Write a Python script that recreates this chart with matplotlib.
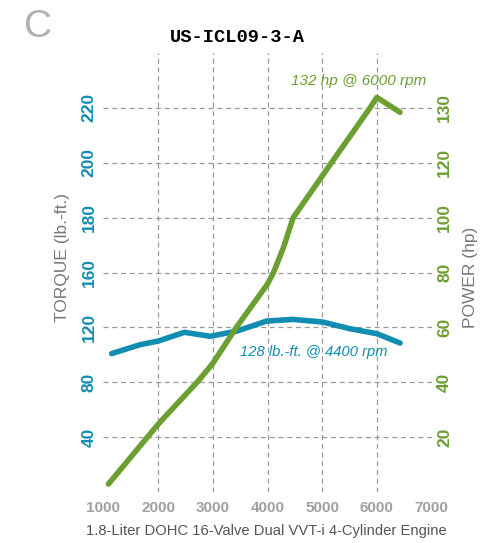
# engine curve: torque / power vs rpm
import numpy as np
import matplotlib
matplotlib.use('Agg')
import matplotlib.pyplot as plt

plt.rcParams['font.family'] = ['Liberation Sans', 'DejaVu Sans']

# 데이터
rpm_power = [1090, 2000, 2730, 3000, 3430, 4000, 4110, 4290, 4470, 5170, 5875, 6000, 6425]
power_hp = [2.9, 24.7, 40.4, 46.9, 60, 75.8, 80, 89, 100, 120, 130, 131.9, 129.2]

rpm_torque = [1150, 1670, 2000, 2480, 2950, 3440, 3985, 4470, 5010, 5510, 6000, 6425]
torque_lbft = [100.9, 107.4, 110.0, 116.4, 113.5, 117.3, 124.6, 125.8, 123.9, 119.0, 115.4, 108.6]

rpm_ticks = [1000, 2000, 3000, 4000, 5000, 6000, 7000]
torque_ticks = [40, 80, 120, 160, 180, 200, 220]
power_ticks = [20, 40, 60, 80, 100, 120, 130]

blue = '#118db2'
green = '#6c9f31'
gray = '#777777'


# 축 눈금 간격이 일정하지 않음 -> 구간별 선형 스케일
def torque_fwd(v):
    return np.interp(v, [0, 160, 240], [0, 4, 8])


def torque_inv(v):
    return np.interp(v, [0, 4, 8], [0, 160, 240])


def power_fwd(v):
    return np.interp(v, [0, 120, 140], [0, 6, 8])


def power_inv(v):
    return np.interp(v, [0, 6, 8], [0, 120, 140])


fig = plt.figure(figsize=(4.85, 5.43), dpi=100)
ax = fig.add_axes([103.5 / 485, 51 / 543, 328 / 485, 439 / 543])
ax2 = ax.twinx()

ax.set_yscale('function', functions=(torque_fwd, torque_inv))
ax2.set_yscale('function', functions=(power_fwd, power_inv))

ax.plot(rpm_torque, torque_lbft, color=blue, lw=4, solid_capstyle='round', solid_joinstyle='round')
ax2.plot(rpm_power, power_hp, color=green, lw=4, solid_capstyle='round', solid_joinstyle='round')

ax.set_xlim(1000, 7000)
ax.set_ylim(0, 240)
ax2.set_ylim(0, 140)

ax.set_xticks(rpm_ticks)
ax.set_yticks(torque_ticks)
ax2.set_yticks(power_ticks)
ax.yaxis.set_minor_locator(matplotlib.ticker.NullLocator())
ax2.yaxis.set_minor_locator(matplotlib.ticker.NullLocator())

ax.grid(True, color='#999999', ls=(0, (4, 3)), lw=0.9)
gl = ax.xaxis.get_gridlines()
gl[0].set_visible(False)
gl[-1].set_visible(False)

for a in (ax, ax2):
    for s in a.spines.values():
        s.set_visible(False)

ax.tick_params(axis='x', length=0, pad=6.5, labelsize=11, labelcolor='#a0a0a0')
ax.tick_params(axis='y', length=0, pad=5, labelsize=12.5, labelcolor=blue, labelrotation=90)
ax2.tick_params(axis='y', length=0, pad=4, labelsize=12.5, labelcolor=green, labelrotation=90)
for lab in ax.get_xticklabels():
    lab.set_fontweight('bold')
for lab in ax.get_yticklabels() + ax2.get_yticklabels():
    lab.set_fontweight('bold')
    lab.set_verticalalignment('center')

ax.set_xlabel('1.8-Liter DOHC 16-Valve Dual VVT-i 4-Cylinder Engine', fontsize=10.6, color='#555555')
ax.xaxis.label.set_verticalalignment('center')
ax.xaxis.set_label_coords((266 - 103.5) / 328, (492 - 531) / 439)
ax.set_ylabel('TORQUE (lb.-ft.)', fontsize=12.5, color=gray)
ax.yaxis.label.set_verticalalignment('center')
ax.yaxis.set_label_coords((63 - 103.5) / 328, (492 - 257) / 439)
ax2.set_ylabel('POWER (hp)', fontsize=12.5, color=gray)
ax2.yaxis.label.set_verticalalignment('center')
ax2.yaxis.set_label_coords((471 - 103.5) / 328, (492 - 277) / 439)

ax2.text(5674, 134.9, '132 hp @ 6000 rpm', color=green, style='italic', fontsize=11,
         ha='center', va='center')
ax.text(4845, 102, '128 lb.-ft. @ 4400 rpm', color=blue, style='italic', fontsize=10.6,
        ha='center', va='center')

fig.text(237 / 485, 1 - 38 / 543, 'US-ICL09-3-A', family='Liberation Mono', weight='bold',
         fontsize=13.5, ha='center', va='center')
fig.text(38 / 485, 1 - 27 / 543, 'C', family='Liberation Sans', fontsize=28, color='#b0b0b0',
         ha='center', va='center')

fig.savefig('out.png', dpi=100)
